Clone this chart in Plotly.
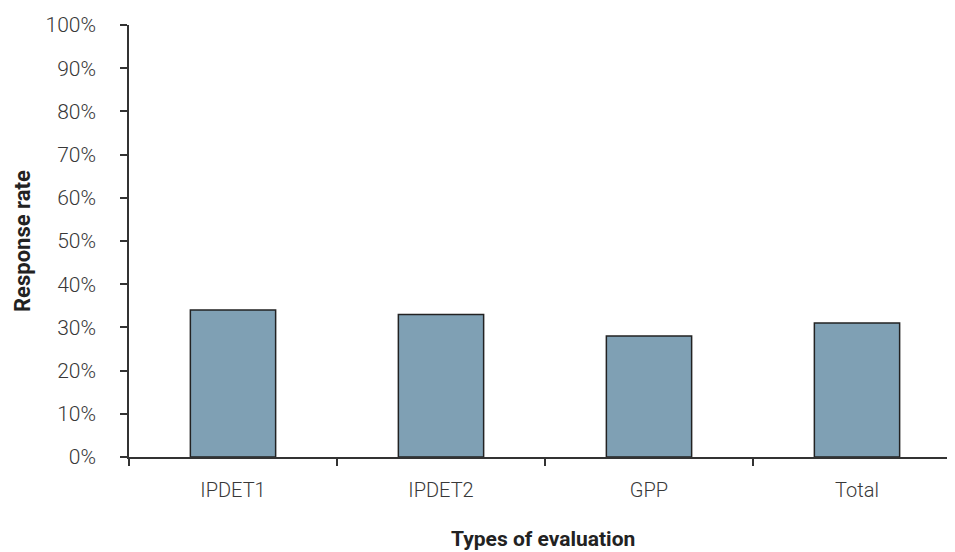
import plotly.graph_objects as go

categories = ["IPDET1", "IPDET2", "GPP", "Total"]
response_rate = [0.34, 0.33, 0.28, 0.31]
y_ticks = [i / 10 for i in range(11)]
y_tick_labels = [f"{i * 10}%" for i in range(11)]

FONT = "Roboto, Arial, sans-serif"
TXT = "#383838"

fig = go.Figure(go.Bar(
    x=categories,
    y=response_rate,
    width=0.41,
    marker=dict(color="#7fa0b4", line=dict(color="#222222", width=1.5)),
    hoverinfo="x+y",
))

fig.update_layout(
    width=955, height=552,
    margin=dict(l=121, r=2, t=17, b=103),
    paper_bgcolor="white", plot_bgcolor="white",
    font=dict(family=FONT, size=21, color=TXT, weight=300),
    showlegend=False,
    xaxis=dict(
        type="category", range=[-0.5, 3.5], showgrid=False, zeroline=False,
        showline=True, linecolor="#333333", linewidth=1.5,
        ticks="outside", tickson="boundaries", ticklen=7,
        tickcolor="#333333", tickwidth=1.5,
        ticklabelstandoff=14, tickfont=dict(size=20),
    ),
    yaxis=dict(
        tickmode="array", tickvals=y_ticks, ticktext=y_tick_labels,
        range=[0, 1], showgrid=False, zeroline=False,
        showline=True, linecolor="#333333", linewidth=1.5,
        ticks="outside", ticklen=7, tickcolor="#333333", tickwidth=1.5,
        ticklabelstandoff=20,
    ),
    annotations=[
        dict(text="<b>Types of evaluation</b>", xref="paper", yref="paper",
             x=0.4975, y=-0.19, xanchor="center", yanchor="middle",
             showarrow=False, font=dict(size=21, color="#222222", weight=700)),
        dict(text="<b>Response rate</b>", xref="paper", yref="paper",
             x=-0.1286, y=0.5, xanchor="center", yanchor="middle", textangle=-90,
             showarrow=False, font=dict(size=22, color="#222222", weight=700)),
    ],
)

fig.write_html("out.html")
